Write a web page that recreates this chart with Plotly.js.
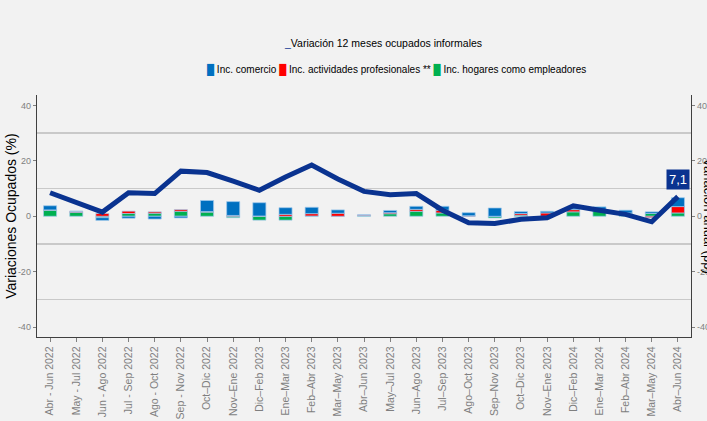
<!DOCTYPE html>
<html>
<head>
<meta charset="utf-8">
<script src="https://cdn.plot.ly/plotly-3.0.1.min.js"></script>
<style>
html,body{margin:0;padding:0;background:#F2F2F2;}
#chart{width:707px;height:421px;}
</style>
</head>
<body>
<div id="chart"></div>
<script>
const categories = [
  "Abr - Jun 2022","May - Jul 2022","Jun - Ago 2022","Jul - Sep 2022","Ago - Oct 2022","Sep - Nov 2022",
  "Oct–Dic 2022","Nov–Ene 2022","Dic–Feb 2023","Ene–Mar 2023","Feb–Abr 2023","Mar–May 2023",
  "Abr–Jun 2023","May–Jul 2023","Jun–Ago 2023","Jul–Sep 2023","Ago–Oct 2023","Sep–Nov 2023",
  "Oct–Dic 2023","Nov–Ene 2023","Dic–Feb 2024","Ene–Mar 2024","Feb–Abr 2024","Mar–May 2024","Abr–Jun 2024"
];
const comercio      = [1.5, 0.0, -1.0, -0.7, -1.0, -0.6, 4.0, 5.0, 4.8, 2.4, 2.3, 1.2, 0.0, 0.8, 1.1, 1.4, 1.1, 3.0, 0.7, 0.6, 0.6, 1.3, 1.0, 0.6, 3.2];
const profesionales = [0.1, 0.4, 1.0, 0.85, 0.5, 0.6, 0.2, 0.3, 0.1, 0.7, 0.85, 1.1, 0.3, 0.4, 0.7, 1.0, 0.2, 0.0, 0.6, 1.2, 0.8, 0.1, 0.0, -0.5, 2.3];
const hogares       = [2.2, 1.4, -0.5, 1.0, 1.1, 1.8, 1.5, -0.5, -1.4, -1.4, 0.1, 0.0, 0.2, 0.9, 1.8, 1.2, 0.0, -0.6, 0.4, 0.0, 1.6, 2.0, 1.2, 1.0, 1.2];
const variacion     = [8.5, 4.8, 1.5, 8.5, 8.2, 16.3, 15.8, 12.7, 9.4, 14.2, 18.5, 13.5, 9.0, 7.8, 8.2, 2.2, -2.3, -2.6, -1.1, -0.5, 3.8, 2.2, 0.7, -2.0, 7.1];
const yTicks = [-40, -20, 0, 20, 40];
const yTickText = ["-40", "-20", "0", "20", "40"];
const yGrid = [-30, -10, 10, 30];

const FONT = '"Liberation Sans", Arial, sans-serif';
const LINE_COLOR = '#0A3390';
const C_COM = '#0070C0', C_PRO = '#FF0000', C_HOG = '#00B050';
const edge = {color: 'rgba(160,200,235,0.9)', width: 0.8};

const names = {com: 'Inc. comercio', pro: 'Inc. actividades profesionales **', hog: 'Inc. hogares como empleadores',
               line: 'Variación 12 meses ocupados informales'};

const traces = [
  {type: 'bar', name: names.hog, x: categories, y: hogares, marker: {color: C_HOG, line: edge}, showlegend: false},
  {type: 'bar', name: names.pro, x: categories, y: profesionales, marker: {color: C_PRO, line: edge}, showlegend: false},
  {type: 'bar', name: names.com, x: categories, y: comercio, marker: {color: C_COM, line: edge}, showlegend: false},
  {type: 'scatter', mode: 'lines', name: names.line, x: categories, y: variacion,
   yaxis: 'y2', line: {color: LINE_COLOR, width: 5}, showlegend: false}
];

const last = categories.length - 1;
const yRange = [-43.6, 43.8];
const sw = (c) => '<span style="color:' + c + '">█</span>';

const axisCommon = {range: yRange, tickvals: yTicks, ticktext: yTickText, showgrid: false, zeroline: false,
  showline: true, linecolor: '#404040', linewidth: 1.3, ticks: 'outside', ticklen: 3, tickcolor: '#808080',
  tickfont: {family: FONT, size: 9, color: '#808080'}};

const layout = {
  width: 707, height: 421,
  paper_bgcolor: '#F2F2F2', plot_bgcolor: '#F2F2F2',
  margin: {l: 37, r: 16, t: 95, b: 84},
  barmode: 'relative', bargap: 0.5,
  font: {family: FONT, color: '#000'},
  showlegend: false,
  xaxis: {type: 'category', showline: true, linecolor: '#404040', linewidth: 1.3,
          ticks: 'outside', ticklen: 4, tickcolor: '#808080', tickangle: -90,
          tickfont: {family: FONT, size: 10.5, color: '#7F7F7F'}, showgrid: false},
  yaxis: Object.assign({}, axisCommon, {
          minor: {tickmode: 'array', tickvals: yGrid, showgrid: true, gridcolor: '#C9C9C9', gridwidth: 1.5, ticks: ''}}),
  yaxis2: Object.assign({}, axisCommon, {overlaying: 'y', side: 'right'}),
  annotations: [
    {xref: 'paper', yref: 'paper', x: -0.040, y: 0.5, xanchor: 'center', yanchor: 'middle', showarrow: false,
     textangle: -90, text: 'Variaciones Ocupados (%)', font: {family: FONT, size: 14, color: '#000'}},
    {xref: 'paper', yref: 'paper', x: 0.529, y: 1.215, xanchor: 'center', yanchor: 'middle', showarrow: false,
     text: '<span style="color:' + LINE_COLOR + '">_</span>' + names.line,
     font: {family: FONT, size: 10.5, color: '#000'}},
    {xref: 'paper', yref: 'paper', x: 0.549, y: 1.103, xanchor: 'center', yanchor: 'middle', showarrow: false,
     text: sw(C_COM) + ' ' + names.com + ' ' + sw(C_PRO) + ' ' + names.pro + ' ' + sw(C_HOG) + ' ' + names.hog,
     font: {family: FONT, size: 10, color: '#000'}},
    {x: categories[last], y: variacion[last], xref: 'x', yref: 'y2', yanchor: 'bottom', yshift: 7, showarrow: false,
     text: variacion[last].toFixed(1).replace('.', ','), bgcolor: LINE_COLOR, borderpad: 2,
     font: {family: FONT, size: 13, color: '#FFFFFF'}},
    {xref: 'paper', yref: 'paper', x: 1.027, y: 0.5, xanchor: 'center', yanchor: 'middle', showarrow: false,
     textangle: 90, text: 'Variación anual (pp)', font: {family: FONT, size: 13, color: '#000'}}
  ]
};

Plotly.newPlot('chart', traces, layout, {displayModeBar: false, staticPlot: true});
</script>
</body>
</html>
